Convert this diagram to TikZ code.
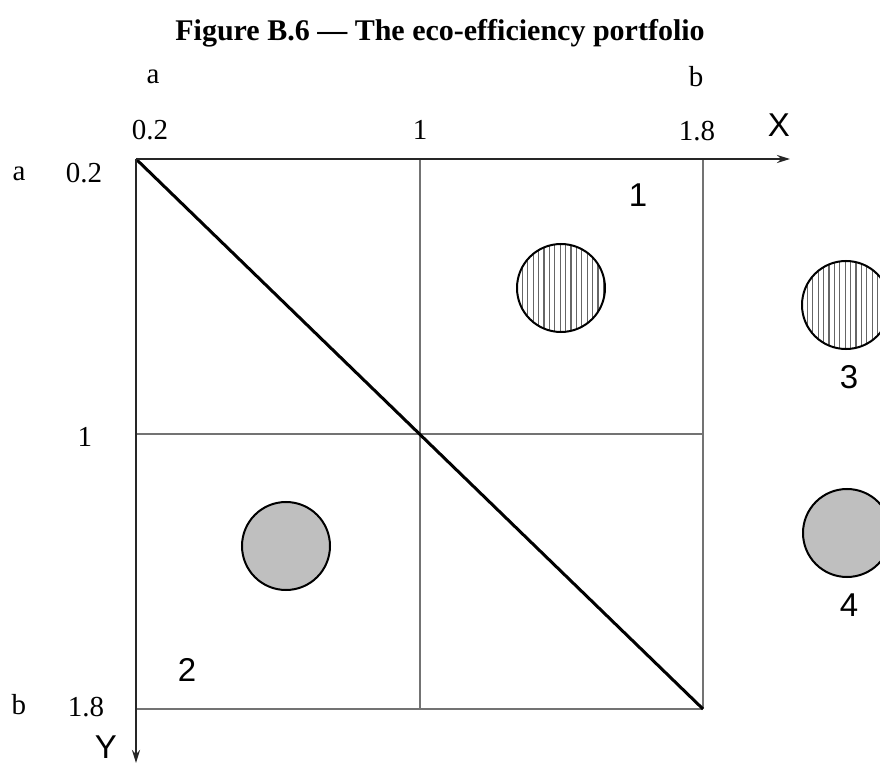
\documentclass[tikz,border=0pt]{standalone}
\usepackage{fontspec}
\setmainfont{Liberation Serif}
\newfontfamily\labelsans{Liberation Sans}
\usetikzlibrary{arrows.meta}
\begin{document}
\begin{tikzpicture}[x=0.5pt, y=-0.5pt, >={Stealth[length=6.5pt,width=4pt]},
    every node/.style={inner sep=0pt},
    ticklabel/.style={font=\fontsize{14.5}{17}\selectfont},
    zonelabel/.style={font=\labelsans\fontsize{16.5}{19}\selectfont},
    gridline/.style={line width=0.75pt, black!55},
    axisline/.style={line width=1.2pt, black!85},
    dot/.style={circle, draw, line width=1pt, minimum size=44pt},
    graydot/.style={dot, fill=black!25},
    hatchdot/.style={dot, path picture={
        \foreach \d in {-22,-19.3,...,22}
          \draw[line width=0.6pt, black!60]
            ([xshift=\d pt]path picture bounding box.south) --
            ([xshift=\d pt]path picture bounding box.north);}}]
  \useasboundingbox (0,0) rectangle (880,765);

  % corners of the portfolio
  \coordinate (O)  at (136,159);
  \coordinate (tm) at (420,159);
  \coordinate (tr) at (703,159);
  \coordinate (ml) at (136,434);
  \coordinate (mr) at (703,434);
  \coordinate (bl) at (136,709);
  \coordinate (bm) at (420,709);
  \coordinate (br) at (703,709);
  \coordinate (Xtip) at (790,159);
  \coordinate (Ytip) at (136,763);

  \draw[gridline] (tm) -- (bm);
  \draw[gridline] (tr) -- (br);
  \draw[gridline] (ml) -- (mr);
  \draw[gridline] (bl) -- (br);
  \draw[line width=1.5pt] (O) -- (br);
  \draw[axisline, ->] (O) -- (Xtip);
  \draw[axisline, ->] (O) -- (Ytip);

  % circles
  \node[hatchdot] (c1) at (561,288) {};
  \node[hatchdot] (c3) at (846,305) {};
  \node[graydot]  (c2) at (286,546) {};
  \node[graydot]  (c4) at (847,533) {};

  \node[font=\bfseries\fontsize{15}{18}\selectfont] (title) at (440,33)
    {Figure B.6 --- The eco-efficiency portfolio};

  \node[ticklabel] (xa)  at (153,77)  {a};
  \node[ticklabel] (xb)  at (696,77)  {b};
  \node[ticklabel] (x02) at (150,130) {0.2};
  \node[ticklabel] (x1)  at (420,130) {1};
  \node[ticklabel] (x18) at (697,131) {1.8};
  \node[ticklabel] (ya)  at (19,174)  {a};
  \node[ticklabel] (y02) at (84,173)  {0.2};
  \node[ticklabel] (y1)  at (85,437)  {1};
  \node[ticklabel] (yb)  at (19,705)  {b};
  \node[ticklabel] (y18) at (86,707)  {1.8};

  \node[zonelabel] (Xlab) at (779,125) {X};
  \node[zonelabel] (Ylab) at (106,747) {Y};
  \node[zonelabel] (z1) at (638,195) {1};
  \node[zonelabel] (z2) at (187,670) {2};
  \node[zonelabel] (z3) at (849,377) {3};
  \node[zonelabel] (z4) at (849,605) {4};
\end{tikzpicture}
\end{document}
